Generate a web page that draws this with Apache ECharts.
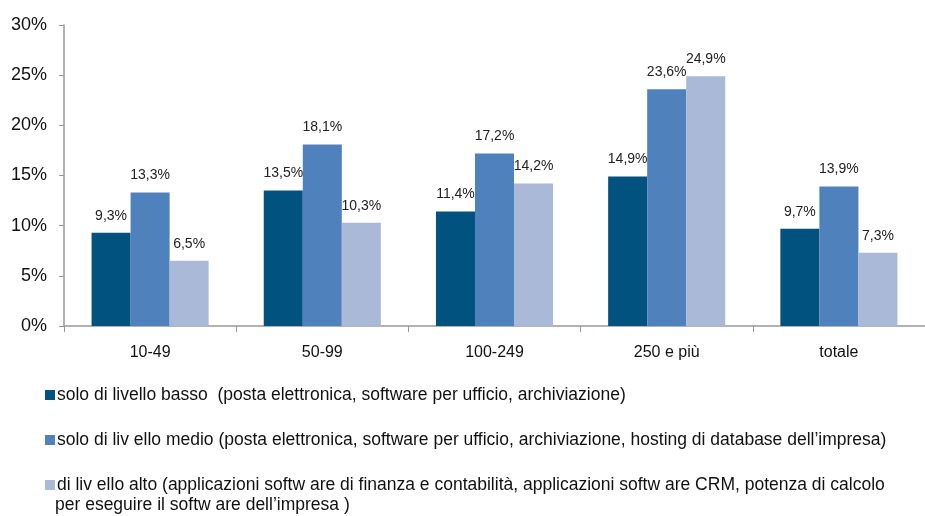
<!DOCTYPE html>
<html>
<head>
<meta charset="utf-8">
<script src="https://cdn.jsdelivr.net/npm/echarts@6/dist/echarts.min.js"></script>
<style>
  html, body { margin: 0; padding: 0; background: #fff; }
  #chart { width: 925px; height: 516px; }
</style>
</head>
<body>
<div id="chart"></div>
<script>
const categories = ["10-49", "50-99", "100-249", "250 e più", "totale"];
const seriesNames = [
  "solo di livello basso  (posta elettronica, software per ufficio, archiviazione)",
  "solo di liv ello medio (posta elettronica, software per ufficio, archiviazione, hosting di database dell’impresa)",
  "di liv ello alto (applicazioni softw are di finanza e contabilità, applicazioni softw are CRM, potenza di calcolo"
];
const legendTail = "per eseguire il softw are dell’impresa )";
const basso = [9.3, 13.5, 11.4, 14.9, 9.7];
const medio = [13.3, 18.1, 17.2, 23.6, 13.9];
const alto = [6.5, 10.3, 14.2, 24.9, 7.3];
const colors = ["#02527f", "#4f81bd", "#aab9d8"];

const chart = echarts.init(document.getElementById("chart"));

const fmt = (v) => v.toFixed(1).replace(".", ",") + "%";

const makeSeries = (name, data, color) => ({
  name: name,
  type: "bar",
  data: data,
  barGap: "0%",
  barCategoryGap: "32%",
  itemStyle: { color: color },
  label: {
    show: true,
    position: "top",
    distance: 10,
    color: "#222",
    fontFamily: "Liberation Sans",
    fontSize: 14,
    formatter: (p) => fmt(p.value)
  }
});

const option = {
  animation: false,
  textStyle: { fontFamily: "Liberation Sans" },
  grid: { left: 64, right: -11, top: 25, bottom: 190 },
  xAxis: {
    type: "category",
    data: categories,
    axisLine: { lineStyle: { color: "#999", width: 1.5 } },
    axisTick: { show: true, length: 6, lineStyle: { color: "#999" } },
    axisLabel: { color: "#111", fontSize: 16, margin: 19 }
  },
  yAxis: {
    type: "value",
    min: 0,
    max: 30,
    interval: 5,
    splitLine: { show: false },
    axisLine: { show: true, lineStyle: { color: "#999", width: 1.5 } },
    axisTick: { show: true, length: 5, lineStyle: { color: "#999" } },
    axisLabel: { color: "#111", fontSize: 18, margin: 17, formatter: "{value}%" }
  },
  legend: {
    orient: "vertical",
    left: 40,
    top: 380,
    itemWidth: 10,
    itemHeight: 10,
    itemGap: 25,
    icon: "rect",
    textStyle: { color: "#111", fontSize: 17.5, lineHeight: 20, padding: [0, 0, 0, -3] },
    data: seriesNames
  },
  graphic: [{
    type: "text",
    left: 55,
    top: 496,
    style: { text: legendTail, fill: "#111", fontSize: 17.5, fontFamily: "Liberation Sans" }
  }],
  series: [
    makeSeries(seriesNames[0], basso, colors[0]),
    makeSeries(seriesNames[1], medio, colors[1]),
    makeSeries(seriesNames[2], alto, colors[2])
  ]
};

chart.setOption(option);
</script>
</body>
</html>
